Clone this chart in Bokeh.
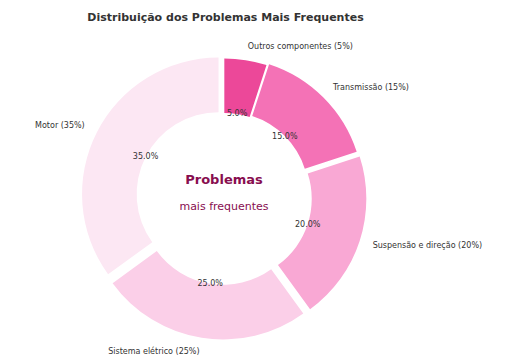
import math
from bokeh.plotting import figure
from bokeh.models import Range1d
from bokeh.core.properties import value
from bokeh.embed import file_html
from bokeh.resources import INLINE

# ---- data ----
categories = ["Outros componentes", "Transmissão", "Suspensão e direção", "Sistema elétrico", "Motor"]
percentages = [5, 15, 20, 25, 35]
colors = ["#ec4899", "#f472b6", "#f9a8d4", "#fbcfe8", "#fce7f3"]
explode = [0.015, 0.03, 0.045, 0.045, 0.045]
chart_title = "Distribuição dos Problemas Mais Frequentes"
center_title = "Problemas"
center_subtitle = "mais frequentes"

# ---- layout (pixels) ----
W, H = 505, 363
R_PX = 136.5                 # outer radius in pixels
CX_PX, CY_PX = 223.5, 196.4  # donut centre, from figure top-left
INNER = 0.6
LABEL_DIST = 1.1
PCT_DIST = 0.6
FONT = "DejaVu Sans"

p = figure(width=W, height=H, output_backend="svg", toolbar_location=None,
           x_range=Range1d(-CX_PX / R_PX, (W - CX_PX) / R_PX),
           y_range=Range1d(-(H - CY_PX) / R_PX, CY_PX / R_PX),
           min_border=0, min_border_left=0, min_border_right=0,
           min_border_top=0, min_border_bottom=0)
p.axis.visible = False
p.grid.visible = False
p.outline_line_color = None
p.background_fill_color = "white"
p.border_fill_color = "white"

total = sum(percentages)
start = 90.0
wx, wy, sa, ea = [], [], [], []
pct_x, pct_y, pct_t = [], [], []
lab_l = dict(x=[], y=[], t=[])
lab_r = dict(x=[], y=[], t=[])
for cat, pct, ex in zip(categories, percentages, explode):
    span = pct / total * 360.0
    a2 = start
    a1 = start - span
    mid = math.radians((a1 + a2) / 2)
    ox = ex * math.cos(mid)
    oy = ex * math.sin(mid)
    wx.append(ox)
    wy.append(oy)
    sa.append(math.radians(a1))
    ea.append(math.radians(a2))
    pct_x.append(ox + PCT_DIST * math.cos(mid))
    pct_y.append(oy + PCT_DIST * math.sin(mid))
    pct_t.append(f"{pct / total * 100:.1f}%")
    lx = ox + LABEL_DIST * math.cos(mid)
    ly = oy + LABEL_DIST * math.sin(mid)
    d = lab_l if math.cos(mid) > 0 else lab_r
    d["x"].append(lx)
    d["y"].append(ly)
    d["t"].append(f"{cat} ({pct}%)")
    start = a1

p.annular_wedge(x=wx, y=wy, inner_radius=INNER, outer_radius=1.0,
                start_angle=sa, end_angle=ea, direction="anticlock",
                fill_color=colors, line_color=None)

p.text(x=pct_x, y=pct_y, text=pct_t, text_font=value(FONT), text_font_size="8px",
       text_color="#333333", text_align="center", text_baseline="middle")
p.text(x=lab_l["x"], y=lab_l["y"], text=lab_l["t"], text_font=value(FONT),
       text_font_size="8px", text_color="#333333", text_align="left", text_baseline="middle")
p.text(x=lab_r["x"], y=lab_r["y"], text=lab_r["t"], text_font=value(FONT),
       text_font_size="8px", text_color="#333333", text_align="right", text_baseline="middle")

p.text(x=[0.0], y=[17.9 / R_PX], text=[center_title], text_font=value(FONT),
       text_font_size="13px", text_font_style="bold", text_color="#880e4f",
       text_align="center", text_baseline="middle")
p.text(x=[0.0], y=[-9.6 / R_PX], text=[center_subtitle], text_font=value(FONT),
       text_font_size="11px", text_color="#880e4f",
       text_align="center", text_baseline="middle")

p.text(x=[(225.0 - CX_PX) / R_PX], y=[(CY_PX - 16.8) / R_PX], text=[chart_title],
       text_font=value(FONT), text_font_size="11px", text_font_style="bold",
       text_color="#333333", text_align="center", text_baseline="middle")

open("out.html", "w").write(file_html(p, INLINE))
